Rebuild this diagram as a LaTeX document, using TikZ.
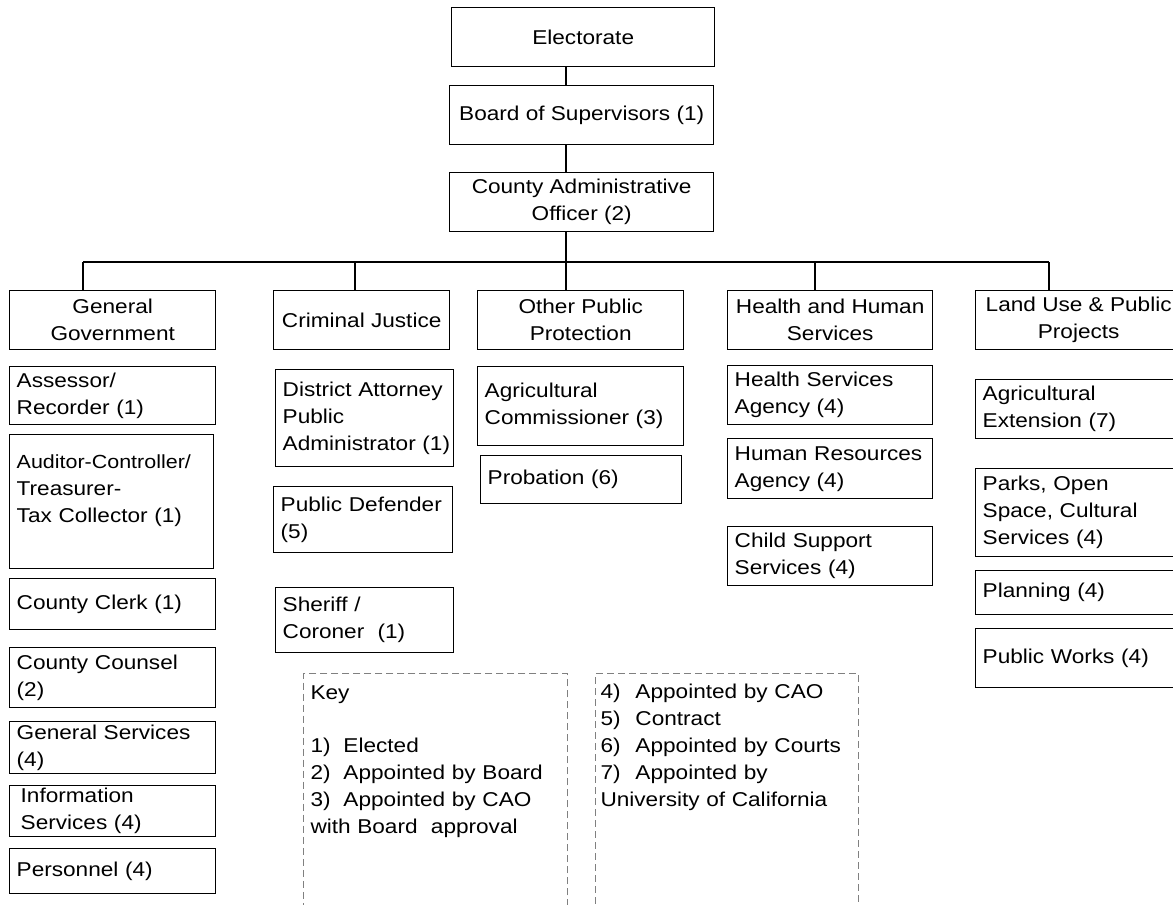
\documentclass[tikz,border=0pt]{standalone}
\usepackage{fontspec}
\setmainfont{Liberation Sans}[FakeStretch=1.13]

\tikzset{
head/.style 2 args={draw,line width=1.4pt,anchor=north west,align=center,inner sep=0pt,minimum width=#1,minimum height=#2},
unit/.style 2 args={draw,line width=1.4pt,anchor=north west,align=left,inner xsep=7pt,inner ysep=0pt,minimum width=#1,text width=#1-14pt,minimum height=#2},
keybox/.style={draw=gray,line width=1pt,dash pattern=on 7pt off 4pt,anchor=north west,align=left,text width=#1,text depth=260pt},
link/.style={line width=1.4pt}
}

\begin{document}
\begin{tikzpicture}[x=1pt,y=-1pt,font=\fontsize{20}{27}\selectfont]
\clip (0,0) rectangle (1173,905);
\node[head={263}{59}] (elec) at (451,7) {Electorate};
\node[head={264}{59}] (board) at (449,85) {Board of Supervisors (1)};
\node[head={264}{59}] (cao) at (449,172) {County Administrative\\Officer (2)};

\node[head={206}{59}] (gen) at (9,290) {General\\Government};
\node[head={176}{59}] (crim) at (273,290) {Criminal Justice};
\node[head={206}{59}] (other) at (477,290) {Other Public\\Protection};
\node[head={205}{59}] (hhs) at (727,290) {Health and Human\\Services};
\node[head={206}{59}] (land) at (975,290) {Land Use \& Public\\Projects};

\node[unit={206}{58}] (assessor) at (9,366) {Assessor/\\Recorder (1)};
\node[unit={204}{134}] (auditor) at (9,434) {{\fontsize{19}{27}\selectfont Auditor-Controller/}\\Treasurer-\\Tax Collector (1)\\\mbox{}};
\node[unit={206}{51}] (clerk) at (9,578) {County Clerk (1)};
\node[unit={206}{60}] (counsel) at (9,647) {County Counsel\\(2)};
\node[unit={206}{52}] (gensvc) at (9,721) {General Services\\(4)};
\node[unit={206}{51}] (infosvc) at (9,785) {\hspace*{4pt}Information\\\hspace*{4pt}Services (4)};
\node[unit={206}{45}] (personnel) at (9,848) {Personnel (4)};

\node[unit={178}{97}] (da) at (275,369) {\mbox{District Attorney}\\Public\\\mbox{Administrator (1)}};
\node[unit={179}{66}] (pd) at (273,486) {\mbox{Public Defender}\\(5)};
\node[unit={178}{65}] (sheriff) at (275,587) {Sheriff /\\Coroner~ (1)};

\node[unit={206}{79}] (agcomm) at (477,366) {Agricultural\\Commissioner (3)};
\node[unit={201}{48}] (probation) at (480,455) {Probation (6)};

\node[unit={205}{59}] (hsa) at (727,365) {Health Services\\Agency (4)};
\node[unit={205}{60}] (hra) at (727,438) {Human Resources\\Agency (4)};
\node[unit={205}{59}] (css) at (727,526) {Child Support\\Services (4)};

\node[unit={206}{59}] (agext) at (975,379) {Agricultural\\Extension (7)};
\node[unit={206}{88}] (parks) at (975,468) {Parks, Open\\Space, Cultural\\Services (4)};
\node[unit={206}{44}] (planning) at (975,570) {Planning (4)};
\node[unit={206}{59}] (pworks) at (975,628) {Public Works (4)};

\node[keybox=250,inner xsep=7pt,inner ysep=12.5pt] (keyA) at (303,673)
{Key\\[26pt]\makebox[33pt][l]{1)}Elected\\\makebox[33pt][l]{2)}Appointed by Board\\\makebox[33pt][l]{3)}Appointed by CAO\\with Board~ approval};
\node[keybox=253,inner xsep=5pt,inner ysep=10.3pt] (keyB) at (595,673)
{\makebox[35pt][l]{4)}Appointed by CAO\\\makebox[35pt][l]{5)}Contract\\\makebox[35pt][l]{6)}Appointed by Courts\\\makebox[35pt][l]{7)}Appointed by\\University of California};

\foreach \n/\x in {gen/83,crim/355,other/566,hhs/815,land/1049}
{\coordinate (bus\n) at (\x,262);
\draw[link] (bus\n) -- (\n.north -| bus\n);}
\draw[link] (busgen) -- (busland);
\draw[link] (elec.south -| busother) -- (board.north -| busother);
\draw[link] (board.south -| busother) -- (cao.north -| busother);
\draw[link] (cao.south -| busother) -- (busother);
\end{tikzpicture}
\end{document}
